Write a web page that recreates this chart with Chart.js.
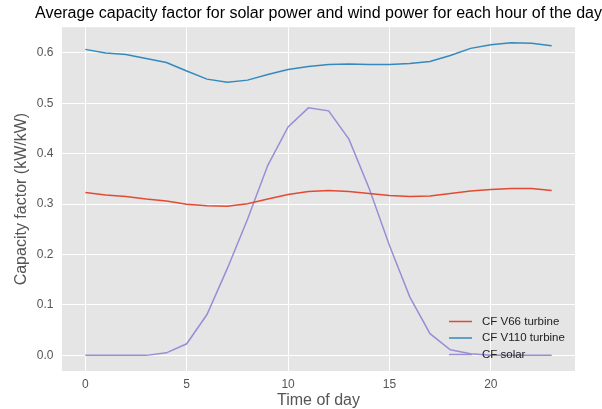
<!DOCTYPE html>
<html>
<head>
<meta charset="utf-8">
<script src="https://cdn.jsdelivr.net/npm/chart.js@4.4.1/dist/chart.umd.min.js"></script>
<style>
  html, body { margin: 0; padding: 0; background: #fff; }
  #wrap { width: 602px; height: 409px; }
</style>
</head>
<body>
<div id="wrap"><canvas id="grafico" width="602" height="409"></canvas></div>
<script>
// dados (média por hora do dia)
const horas = [0, 1, 2, 3, 4, 5, 6, 7, 8, 9, 10, 11, 12, 13, 14, 15, 16, 17, 18, 19, 20, 21, 22, 23];
const cfV66 = [0.323, 0.318, 0.315, 0.310, 0.306, 0.300, 0.297, 0.296, 0.301, 0.310, 0.319, 0.325,
               0.327, 0.325, 0.321, 0.317, 0.315, 0.316, 0.321, 0.326, 0.329, 0.331, 0.331, 0.327];
const cfV110 = [0.607, 0.600, 0.597, 0.589, 0.581, 0.564, 0.548, 0.542, 0.546, 0.557, 0.567, 0.573,
                0.577, 0.578, 0.577, 0.577, 0.579, 0.583, 0.595, 0.609, 0.616, 0.620, 0.619, 0.614];
const cfSolar = [0, 0, 0, 0, 0.005, 0.023, 0.081, 0.172, 0.270, 0.377, 0.453, 0.491,
                 0.485, 0.429, 0.331, 0.218, 0.116, 0.043, 0.011, 0.003, 0, 0, 0, 0];
const xTicks = [0, 5, 10, 15, 20];
const yTicks = [0.0, 0.1, 0.2, 0.3, 0.4, 0.5, 0.6];

const FONTE = "'Liberation Sans', Arial, sans-serif";

// fundo cinza estilo ggplot
const fundoPlugin = {
    id: 'fundo',
    beforeDraw(chart) {
        const { ctx, chartArea } = chart;
        ctx.save();
        ctx.fillStyle = '#ffffff';
        ctx.fillRect(0, 0, chart.width, chart.height);
        ctx.fillStyle = '#E5E5E5';
        ctx.fillRect(chartArea.left, chartArea.top, chartArea.right - chartArea.left, chartArea.bottom - chartArea.top);
        ctx.restore();
    }
};

// legenda dentro da área do gráfico, canto inferior direito
const legendaPlugin = {
    id: 'legendaInterna',
    afterDatasetsDraw(chart) {
        const { ctx, chartArea } = chart;
        ctx.save();
        ctx.font = '11.5px ' + FONTE;
        ctx.textBaseline = 'middle';
        ctx.textAlign = 'left';
        chart.data.datasets.forEach((ds, i) => {
            const y = chartArea.bottom - 49.5 + i * 16.5;
            ctx.strokeStyle = ds.borderColor;
            ctx.lineWidth = 1.5;
            ctx.beginPath();
            ctx.moveTo(chartArea.right - 126, y);
            ctx.lineTo(chartArea.right - 103, y);
            ctx.stroke();
            ctx.fillStyle = '#222';
            ctx.fillText(ds.label, chartArea.right - 93, y);
        });
        ctx.restore();
    }
};

const ctx = document.getElementById('grafico').getContext('2d');
const meuGrafico = new Chart(ctx, {
    type: 'line',
    data: {
        labels: horas,
        datasets: [
            { label: 'CF V66 turbine', data: horas.map((h, i) => ({ x: h, y: cfV66[i] })), borderColor: '#E24A33' },
            { label: 'CF V110 turbine', data: horas.map((h, i) => ({ x: h, y: cfV110[i] })), borderColor: '#348ABD' },
            { label: 'CF solar', data: horas.map((h, i) => ({ x: h, y: cfSolar[i] })), borderColor: '#988ED5' }
        ].map(d => Object.assign(d, { borderWidth: 1.5, pointRadius: 0, fill: false, tension: 0 }))
    },
    options: {
        responsive: false,
        animation: false,
        // título centrado sobre a área do gráfico (como no matplotlib)
        layout: { padding: { left: 35, right: 0, top: 0, bottom: 0 } },
        scales: {
            x: {
                type: 'linear',
                min: -1.15,
                max: 24.15,
                afterBuildTicks: s => { s.ticks = xTicks.map(v => ({ value: v })); },
                afterFit: s => { s.height = 38; },
                grid: { color: '#ffffff', lineWidth: 1, drawTicks: false },
                border: { display: false },
                ticks: { color: '#555555', font: { family: FONTE, size: 12 }, padding: 6, maxRotation: 0,
                         callback: v => String(v) },
                title: { display: true, text: 'Time of day', color: '#555555', font: { family: FONTE, size: 16 },
                         padding: { top: 0, bottom: -1 } }
            },
            y: {
                min: -0.031,
                max: 0.651,
                afterBuildTicks: s => { s.ticks = yTicks.map(v => ({ value: v })); },
                afterFit: s => { s.width = 27; },
                grid: { color: '#ffffff', lineWidth: 1, drawTicks: false },
                border: { display: false },
                ticks: { color: '#555555', font: { family: FONTE, size: 12 }, padding: 8.5,
                         callback: v => v.toFixed(1) },
                title: { display: true, text: 'Capacity factor (kW/kW)', color: '#555555', font: { family: FONTE, size: 16 },
                         padding: { top: -23, bottom: 0 } }
            },
            // eixo vazio à direita só para reservar a margem
            yDir: {
                position: 'right',
                min: 0,
                max: 1,
                afterFit: s => { s.width = 27; },
                grid: { display: false },
                border: { display: false },
                ticks: { display: false }
            }
        },
        plugins: {
            legend: { display: false },
            tooltip: { enabled: false },
            title: {
                display: true,
                text: 'Average capacity factor for solar power and wind power for each hour of the day',
                color: '#000000',
                font: { family: FONTE, size: 16, weight: 'normal' },
                padding: { top: 4, bottom: 4 }
            }
        }
    },
    plugins: [fundoPlugin, legendaPlugin]
});
</script>
</body>
</html>
